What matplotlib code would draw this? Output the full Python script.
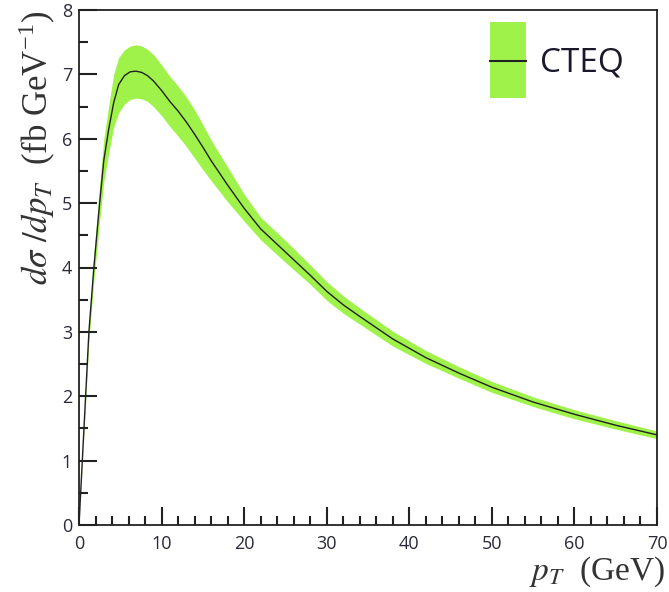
import matplotlib
matplotlib.use("Agg")
import matplotlib.pyplot as plt
from matplotlib.patches import Rectangle
from matplotlib.ticker import MultipleLocator

# Differential cross section vs. transverse momentum (CTEQ PDFs)
pt = [0, 0.4, 0.8, 1.2, 1.8, 2.5, 3.0, 3.6, 4.2, 4.8, 5.5, 6.2, 6.9, 7.6, 8.3, 9.0,
      10, 11, 12, 13, 14, 15, 16, 18, 20, 22, 25, 28, 30, 32, 34, 38, 42, 46, 50,
      55, 60, 65, 70]
xsec = [0, 1.0, 2.0, 3.0, 4.0, 5.0, 5.66, 6.15, 6.56, 6.84, 6.98, 7.04, 7.05, 7.03,
        6.98, 6.90, 6.75, 6.58, 6.43, 6.26, 6.07, 5.87, 5.66, 5.28, 4.92, 4.60, 4.24,
        3.88, 3.63, 3.42, 3.24, 2.89, 2.60, 2.36, 2.14, 1.91, 1.72, 1.55, 1.40]
xsec_lo = [0, 0.95, 1.90, 2.85, 3.80, 4.72, 5.33, 5.78, 6.18, 6.40, 6.54, 6.61, 6.63,
           6.62, 6.58, 6.50, 6.36, 6.19, 6.04, 5.88, 5.70, 5.52, 5.35, 5.02, 4.72,
           4.43, 4.08, 3.74, 3.49, 3.29, 3.12, 2.78, 2.51, 2.28, 2.06, 1.84, 1.65,
           1.49, 1.34]
xsec_hi = [0, 1.05, 2.10, 3.15, 4.20, 5.28, 5.99, 6.52, 7.00, 7.26, 7.38, 7.44, 7.46,
           7.44, 7.39, 7.31, 7.15, 6.97, 6.82, 6.65, 6.45, 6.22, 5.98, 5.56, 5.14,
           4.78, 4.42, 4.04, 3.78, 3.56, 3.37, 3.01, 2.71, 2.46, 2.23, 1.99, 1.79,
           1.62, 1.46]

band_color = "#9ff24a"
line_color = "#222222"
axis_color = "#222222"

plt.rcParams["mathtext.fontset"] = "stix"

fig = plt.figure(figsize=(6.69, 5.92), dpi=100)
ax = fig.add_axes([79 / 669, 1 - 525 / 592, 578 / 669, 515 / 592])

ax.fill_between(pt, xsec_lo, xsec_hi, color=band_color, linewidth=0, zorder=1)
ax.plot(pt, xsec, color=line_color, linewidth=1.0, zorder=2)

ax.set_xlim(0, 70)
ax.set_ylim(0, 8)
ax.xaxis.set_major_locator(MultipleLocator(10))
ax.xaxis.set_minor_locator(MultipleLocator(2))
ax.yaxis.set_major_locator(MultipleLocator(1))
ax.yaxis.set_minor_locator(MultipleLocator(0.5))
ax.tick_params(which="both", length=0, labelsize=13, labelcolor="#2a2a3a")
ax.tick_params(axis="x", which="major", pad=7)
ax.tick_params(axis="y", which="major", pad=5)
for lab in ax.get_xticklabels() + ax.get_yticklabels():
    lab.set_family("Open Sans")
for sp in ax.spines.values():
    sp.set_linewidth(1.3)
    sp.set_color(axis_color)

# Inward tick marks, drawn as plain line segments from the axis locators
xmaj = [t for t in ax.xaxis.get_majorticklocs() if 0 <= t <= 70]
xmin = [t for t in ax.xaxis.get_minorticklocs() if 0 <= t <= 70]
ymaj = [t for t in ax.yaxis.get_majorticklocs() if 0 <= t <= 8]
ymin = [t for t in ax.yaxis.get_minorticklocs() if 0 <= t <= 8]
tick_kw = dict(colors=axis_color, linewidth=1.5, zorder=5, clip_on=False)
ax.vlines(xmaj, 0, 18 / 515, transform=ax.get_xaxis_transform(), **tick_kw)
ax.vlines(xmin, 0, 9 / 515, transform=ax.get_xaxis_transform(), **tick_kw)
ax.hlines(ymaj, 0, 18 / 578, transform=ax.get_yaxis_transform(), **tick_kw)
ax.hlines(ymin, 0, 9 / 578, transform=ax.get_yaxis_transform(), **tick_kw)

# Axis titles, aligned to the far end of each axis
fig.text(37 / 669, 1 - 10 / 592,
         r"$d\sigma\ /dp_T$  (fb GeV$^{\mathregular{-1}}$)",
         rotation=90, ha="center", va="top", fontsize=25,
         family="Liberation Serif", color="#333333")
fig.text(665 / 669, 1 - 572 / 592, r"$p_T$  (GeV)",
         ha="right", va="center", fontsize=24,
         family="Liberation Serif", color="#333333")

# Legend entry: uncertainty band with the central line across it
ax.add_patch(Rectangle(((490 - 79) / 578, 1 - (98 - 10) / 515), 36 / 578, 76 / 515,
                       transform=ax.transAxes, facecolor=band_color,
                       edgecolor="none", zorder=3))
ax.plot([(490 - 79) / 578, (526 - 79) / 578], [1 - 51 / 515] * 2,
        transform=ax.transAxes, color=line_color, linewidth=1.5, zorder=4)
ax.text((540 - 79) / 578, 1 - 53 / 515, "CTEQ", transform=ax.transAxes,
        ha="left", va="center", fontsize=24, family="Open Sans",
        color="#1a1a2a")

fig.savefig("out.png", dpi=100)
